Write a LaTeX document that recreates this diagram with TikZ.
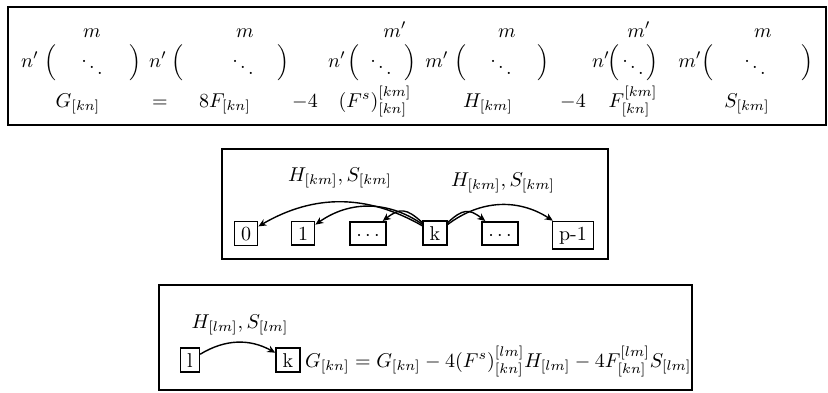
\documentclass[tikz,border=0pt]{standalone}
\usetikzlibrary{arrows.meta}
\begin{document}
\begin{tikzpicture}[x=0.5pt,y=-0.5pt,
  frame/.style={draw,line width=0.9pt},
  nb/.style={draw,line width=0.8pt,inner xsep=3.3pt,inner ysep=2.6pt,anchor=base},
  nbd/.style={nb,text height=6.5pt},
  arr/.style={-{Stealth[length=4pt,width=3.5pt]},line width=0.7pt},
  lab/.style={inner sep=0pt,anchor=base},
  par/.style={inner sep=0pt},
  dd/.style={inner sep=0pt}]
\useasboundingbox (0,0) rectangle (828,392);
% ---------- top box ----------
\draw[frame] (8,7) rectangle (826,125);
% matrix 1
\node[lab] (a1) at (92,37) {$m$};
\node[lab] (b1) at (30,67) {$n'$};
\node[par] (l1) at (50,63) {$\Big($};
\node[dd] (c1) at (92,61) {$\ddots$};
\node[par] (r1) at (135,63) {$\Big)$};
% matrix 2
\node[lab] (a2) at (245,37) {$m$};
\node[lab] (b2) at (158,67) {$n'$};
\node[par] (l2) at (177,63) {$\Big($};
\node[dd] (c2) at (243,61) {$\ddots$};
\node[par] (r2) at (283,63) {$\Big)$};
% matrix 3
\node[lab] (a3) at (395,37) {$m'$};
\node[lab] (b3) at (337,67) {$n'$};
\node[par] (l3) at (353,63) {$\Big($};
\node[dd] (c3) at (381,61) {$\ddots$};
\node[par] (r3) at (410,63) {$\Big)$};
% matrix 4
\node[lab] (a4) at (507,37) {$m$};
\node[lab] (b4) at (437,67) {$m'$};
\node[par] (l4) at (460,63) {$\Big($};
\node[dd] (c4) at (501,61) {$\ddots$};
\node[par] (r4) at (543,63) {$\Big)$};
% matrix 5
\node[lab] (a5) at (639,37) {$m'$};
\node[lab] (b5) at (601,67) {$n'$};
\node[par] (l5) at (613,63) {$\Big($};
\node[dd] (c5) at (633,61) {$\ddots$};
\node[par] (r5) at (652,63) {$\Big)$};
% matrix 6
\node[lab] (a6) at (763,37) {$m$};
\node[lab] (b6) at (690,67) {$m'$};
\node[par] (l6) at (707,63) {$\Big($};
\node[dd] (c6) at (755,61) {$\ddots$};
\node[par] (r6) at (807,63) {$\Big)$};
% bottom row
\node[lab] (e1) at (78,107) {$G_{[kn]}$};
\node[lab] (e2) at (160,107) {$=$};
\node[lab] (e3) at (225,107) {$8F_{[kn]}$};
\node[lab] (e4) at (305,107) {$-4$};
\node[lab] (e5) at (375,107) {$(F^s)^{[km]}_{[kn]}$};
\node[lab] (e6) at (488,107) {$H_{[km]}$};
\node[lab] (e7) at (573,107) {$-4$};
\node[lab] (e8) at (633,107) {$F^{[km]}_{[kn]}$};
\node[lab] (e9) at (747,107) {$S_{[km]}$};
% ---------- middle box ----------
\draw[frame] (222,149) rectangle (608,259);
\node[nb] (n0) at (246,240) {0};
\node[nb] (n1) at (303,240) {1};
\node[nbd] (d1) at (368,240) {$\cdots$};
\node[nb] (k) at (435,240) {k};
\node[nbd] (d2) at (500,240) {$\cdots$};
\node[nb] (pm) at (573,240) {p-1};
\draw[arr] (k) to[bend right=30] (n0);
\draw[arr] (k) to[bend right=35] (n1);
\draw[arr] (k) to[bend right=40,looseness=1.4] (d1);
\draw[arr] (k) to[bend left=40,looseness=1.4] (d2);
\draw[arr] (k) to[bend left=35] (pm);
\node (h1) at (340,178) {$H_{[km]},S_{[km]}$};
\node (h2) at (503,183) {$H_{[km]},S_{[km]}$};
% ---------- bottom box ----------
\draw[frame] (159,285) rectangle (692,390);
\node[nb] (l) at (190,367) {l};
\node[nb] (k2) at (288,367) {k};
\draw[arr] (l) to[bend left=30] (k2);
\node (h3) at (240,325) {$H_{[lm]},S_{[lm]}$};
\node[anchor=base west,inner sep=2pt] (eq) at (k2.base east) {$G_{[kn]}=G_{[kn]}-4(F^s)^{[lm]}_{[kn]}H_{[lm]}-4F^{[lm]}_{[kn]}S_{[lm]}$};
\end{tikzpicture}
\end{document}
